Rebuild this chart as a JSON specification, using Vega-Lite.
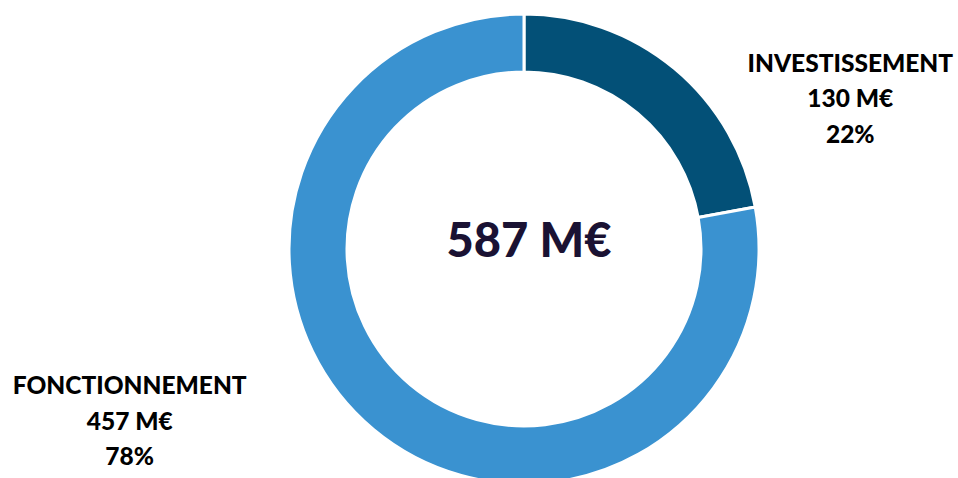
{
  "$schema": "https://vega.github.io/schema/vega-lite/v6.json",
  "width": 868,
  "height": 458,
  "autosize": {"type": "none"},
  "padding": {"left": 90, "top": 20, "right": 0, "bottom": 0},
  "background": "white",
  "config": {"view": {"stroke": null}},
  "data": {
    "values": [
      {"category": "INVESTISSEMENT", "value": 130, "label": "INVESTISSEMENT\n130 M€\n22%"},
      {"category": "FONCTIONNEMENT", "value": 457, "label": "FONCTIONNEMENT\n457 M€\n78%"}
    ]
  },
  "layer": [
    {
      "mark": {"type": "arc", "outerRadius": 235, "innerRadius": 177, "stroke": "white", "strokeWidth": 3},
      "encoding": {
        "theta": {"field": "value", "type": "quantitative", "stack": true},
        "order": {"field": "category", "sort": "descending"},
        "color": {
          "field": "category",
          "type": "nominal",
          "scale": {"domain": ["INVESTISSEMENT", "FONCTIONNEMENT"], "range": ["#035077", "#3A92D0"]},
          "legend": null
        }
      }
    },
    {
      "mark": {"type": "text", "radius": 300, "dx": 134, "dy": 46, "font": "Lato", "fontWeight": 900, "fontSize": 24.5, "lineHeight": 35.5, "lineBreak": "\n", "align": "center", "baseline": "middle", "color": "#000000"},
      "encoding": {
        "theta": {"field": "value", "type": "quantitative", "stack": true},
        "order": {"field": "category", "sort": "descending"},
        "text": {"condition": {"test": "datum.category === 'INVESTISSEMENT'", "field": "label"}, "value": ""}
      }
    },
    {
      "mark": {"type": "text", "radius": 300, "dx": -202, "dy": -92, "font": "Lato", "fontWeight": 900, "fontSize": 24.5, "lineHeight": 35.5, "lineBreak": "\n", "align": "center", "baseline": "middle", "color": "#000000"},
      "encoding": {
        "theta": {"field": "value", "type": "quantitative", "stack": true},
        "order": {"field": "category", "sort": "descending"},
        "text": {"condition": {"test": "datum.category === 'FONCTIONNEMENT'", "field": "label"}, "value": ""}
      }
    },
    {
      "data": {"values": [{"total": "587 M€"}]},
      "mark": {"type": "text", "dx": 5, "dy": -6, "font": "Lato", "fontWeight": 900, "fontSize": 47, "align": "center", "baseline": "middle", "color": "#1A1233"},
      "encoding": {"text": {"field": "total"}}
    }
  ]
}
